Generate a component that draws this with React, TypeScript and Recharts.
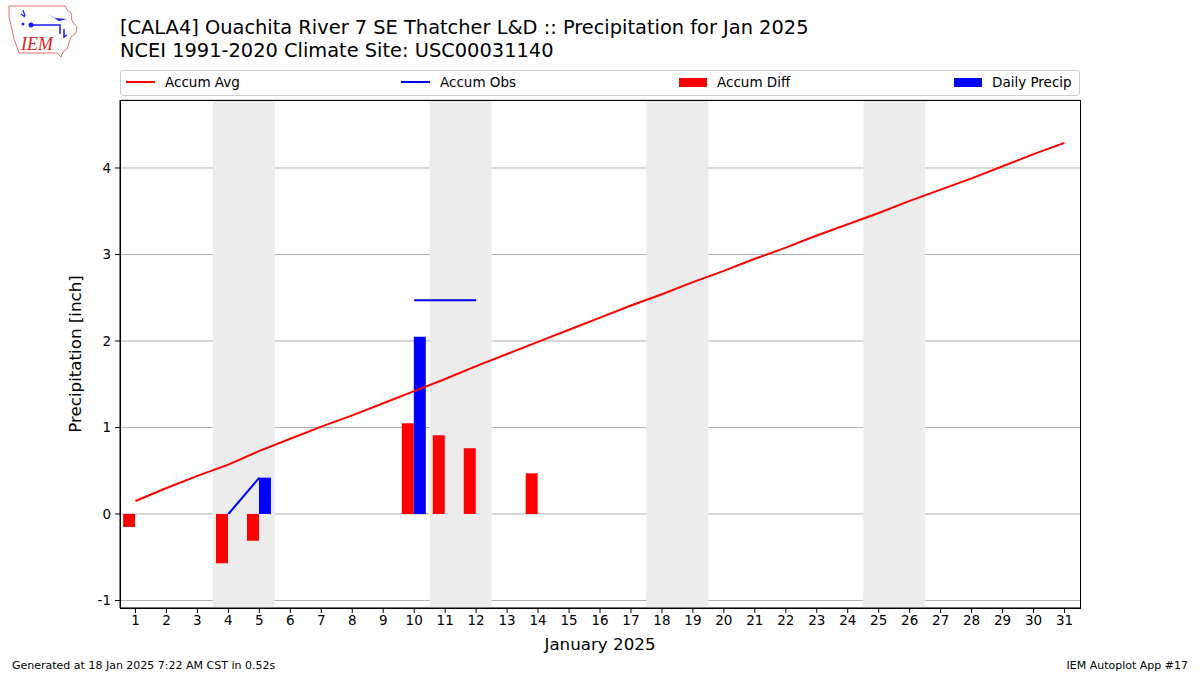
import React from "react";
import {
  Bar,
  CartesianGrid,
  ComposedChart,
  Line,
  ReferenceArea,
  XAxis,
  YAxis,
} from "recharts";

const days = [
  1, 2, 3, 4, 5, 6, 7, 8, 9, 10, 11, 12, 13, 14, 15, 16, 17, 18, 19, 20, 21,
  22, 23, 24, 25, 26, 27, 28, 29, 30, 31,
];
const accumAvg = [
  0.15, 0.3, 0.44, 0.57, 0.73, 0.87, 1.01, 1.14, 1.28, 1.42, 1.56, 1.71, 1.85,
  1.99, 2.13, 2.27, 2.41, 2.54, 2.68, 2.81, 2.95, 3.08, 3.22, 3.35, 3.48, 3.62,
  3.75, 3.88, 4.02, 4.16, 4.29,
];
const accumObs = [
  0, null, null, 0, 0.42, null, null, null, null, 2.47, 2.47, 2.47, null, 2.47,
];
const accumDiff = [
  -0.15, null, null, -0.57, -0.31, null, null, null, null, 1.05, 0.91, 0.76,
  null, 0.47,
];
const dailyPrecip = [
  0, null, null, 0, 0.42, null, null, null, null, 2.05, 0, 0, null, 0,
];
// weekend pairs (Sat, Sun)
const weekends = [
  [4, 5],
  [11, 12],
  [18, 19],
  [25, 26],
];
const yTicks = [-1, 0, 1, 2, 3, 4];

const data = days.map((d, i) => ({
  day: d,
  avg: accumAvg[i],
  obs: accumObs[i] ?? null,
  diff: accumDiff[i] ?? null,
  precip: dailyPrecip[i] ?? null,
}));

const FONT = "'DejaVu Sans', sans-serif";
const W = 1200;
const H = 675;
const PLOT = { left: 120, top: 100, right: 1080, bottom: 608 };

function Logo() {
  return (
    <svg
      width={74}
      height={56}
      style={{ position: "absolute", left: 7, top: 3 }}
      viewBox="0 0 74 56"
    >
      <path
        d="M2 3 L58 3 L60 7 L64 10 L65 18 L70 24 L69 30 L64 34 L62 40 L60 46 L56 49 L54 54 L50 50 L12 50 L10 44 L7 36 L5 26 L2 14 Z"
        fill="none"
        stroke="#e07070"
        strokeWidth={1}
      />
      <path d="M16 7 L18 13 M14 11 L18 14" stroke="#1a1aff" strokeWidth={1.2} />
      <circle cx={16} cy={21} r={1.5} fill="#1a1aff" />
      <circle cx={24} cy={22} r={2.5} fill="#1a1aff" />
      <path d="M24 22 L53 22 L53 31" stroke="#1a1aff" strokeWidth={1.5} fill="none" />
      <path d="M41 11 L48 15 L60 16 L52 18 Z" fill="#1a1aff" />
      <path d="M57 26 L57 34 L60 32" stroke="#1a1aff" strokeWidth={1.5} fill="none" />
      <text
        x={14}
        y={47}
        fontSize={18}
        fontStyle="italic"
        fill="#dd2222"
        fontFamily="'Liberation Serif', serif"
      >
        IEM
      </text>
    </svg>
  );
}

function LegendBox() {
  const items = [
    { label: "Accum Avg", color: "#ff0000", kind: "line", left: 5 },
    { label: "Accum Obs", color: "#0000ff", kind: "line", left: 280 },
    { label: "Accum Diff", color: "#ff0000", kind: "bar", left: 558 },
    { label: "Daily Precip", color: "#0000ff", kind: "bar", left: 833 },
  ];
  return (
    <div
      style={{
        position: "absolute",
        left: PLOT.left,
        top: 70,
        width: PLOT.right - PLOT.left - 2,
        height: 24,
        border: "1px solid #d0d0d0",
        borderRadius: 3,
        background: "#fff",
        fontFamily: FONT,
        fontSize: 13.5,
      }}
    >
      {items.map((it) => (
        <div
          key={it.label}
          style={{
            position: "absolute",
            left: it.left,
            top: -1,
            height: 24,
            display: "flex",
            alignItems: "center",
          }}
        >
          {it.kind === "line" ? (
            <div style={{ width: 29, height: 2, background: it.color }} />
          ) : (
            <div style={{ width: 28, height: 9, background: it.color }} />
          )}
          <span style={{ marginLeft: 10 }}>{it.label}</span>
        </div>
      ))}
    </div>
  );
}

export default function App() {
  return (
    <div
      style={{
        position: "absolute",
        left: 0,
        top: 0,
        width: W,
        height: H,
        background: "#fff",
        fontFamily: FONT,
        overflow: "hidden",
      }}
    >
      <ComposedChart
        width={W}
        height={H}
        data={data}
        margin={{ top: PLOT.top, right: W - PLOT.right, bottom: 0, left: 0 }}
        barCategoryGap="10%"
        barGap={0}
      >
        {weekends.map(([a, b]) => (
          <ReferenceArea
            key={a}
            x1={a}
            x2={b}
            fill="#ececec"
            fillOpacity={1}
            stroke="none"
          />
        ))}
        <CartesianGrid vertical={false} stroke="#b0b0b0" strokeWidth={1} />
        <XAxis
          dataKey="day"
          height={H - PLOT.bottom}
          interval={0}
          tickSize={5}
          tickMargin={2}
          tick={{ fill: "#000", fontSize: 13.5, fontFamily: FONT }}
          axisLine={{ stroke: "#000" }}
          tickLine={{ stroke: "#000" }}
        />
        <YAxis
          type="number"
          width={PLOT.left}
          domain={[-1.087, 4.786]}
          ticks={yTicks}
          allowDataOverflow
          tickSize={5}
          tickMargin={4}
          tick={{ fill: "#000", fontSize: 13.5, fontFamily: FONT }}
          axisLine={{ stroke: "#000" }}
          tickLine={{ stroke: "#000" }}
        />
        <Bar dataKey="diff" fill="#ff0000" isAnimationActive={false} />
        <Bar dataKey="precip" fill="#0000ff" isAnimationActive={false} />
        <Line
          dataKey="avg"
          stroke="#ff0000"
          strokeWidth={2}
          dot={false}
          type="linear"
          isAnimationActive={false}
        />
        <Line
          dataKey="obs"
          stroke="#0000ff"
          strokeWidth={2}
          dot={false}
          type="linear"
          isAnimationActive={false}
        />
      </ComposedChart>

      {/* plot frame */}
      <div
        style={{
          position: "absolute",
          left: PLOT.left,
          top: PLOT.top,
          width: PLOT.right - PLOT.left - 1,
          height: PLOT.bottom - PLOT.top - 1,
          border: "1px solid #000",
          pointerEvents: "none",
        }}
      />

      <Logo />
      <div
        style={{
          position: "absolute",
          left: 120,
          top: 17,
          fontSize: 19.4,
          lineHeight: "22.5px",
          color: "#000",
          whiteSpace: "nowrap",
        }}
      >
        [CALA4] Ouachita River 7 SE Thatcher L&amp;D :: Precipitation for Jan 2025
        <br />
        NCEI 1991-2020 Climate Site: USC00031140
      </div>
      <LegendBox />

      <div
        style={{
          position: "absolute",
          left: 75,
          top: 354,
          transform: "translate(-50%, -50%) rotate(-90deg)",
          fontSize: 16.7,
          whiteSpace: "nowrap",
        }}
      >
        Precipitation [inch]
      </div>
      <div
        style={{
          position: "absolute",
          left: 600,
          top: 644,
          transform: "translate(-50%, -50%)",
          fontSize: 16.7,
          whiteSpace: "nowrap",
        }}
      >
        January 2025
      </div>

      <div
        style={{
          position: "absolute",
          left: 12,
          top: 659,
          fontSize: 11,
          whiteSpace: "nowrap",
        }}
      >
        Generated at 18 Jan 2025 7:22 AM CST in 0.52s
      </div>
      <div
        style={{
          position: "absolute",
          right: 12,
          top: 659,
          fontSize: 11,
          whiteSpace: "nowrap",
        }}
      >
        IEM Autoplot App #17
      </div>
    </div>
  );
}
